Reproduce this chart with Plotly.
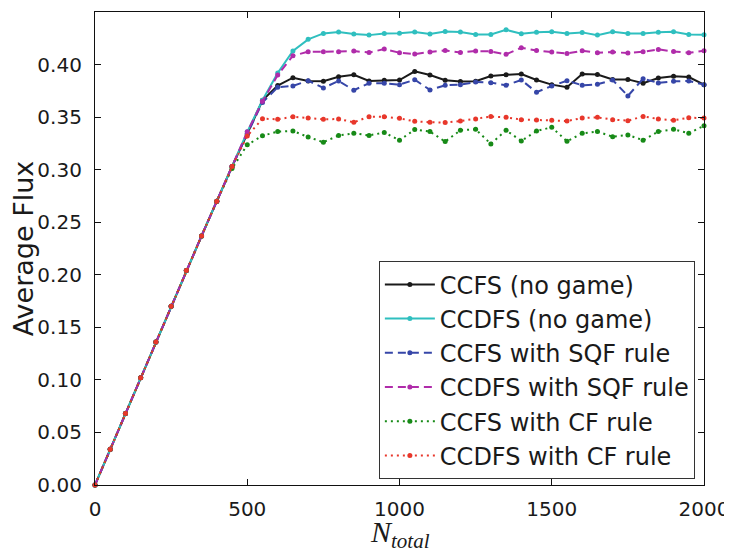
import plotly.graph_objects as go

n_total = list(range(0, 2001, 50))

rise = [0.0, 0.034, 0.068, 0.102, 0.136, 0.170, 0.204, 0.237, 0.270]

ccfs_nogame = rise + [0.303, 0.334, 0.366, 0.380, 0.3875, 0.3844, 0.3841, 0.3884, 0.3903, 0.3844, 0.385,
                      0.3853, 0.3935, 0.390, 0.385, 0.3838, 0.3841, 0.3891, 0.3903, 0.391, 0.3853,
                      0.3809, 0.3784, 0.391, 0.3906, 0.3859, 0.3859, 0.3822, 0.3872, 0.3888, 0.3881, 0.3809]
ccdfs_nogame = rise + [0.303, 0.336, 0.366, 0.392, 0.413, 0.424, 0.4296, 0.431, 0.429, 0.428, 0.4296,
                       0.4298, 0.431, 0.429, 0.4315, 0.431, 0.4287, 0.4287, 0.433, 0.4294, 0.4308,
                       0.4312, 0.4296, 0.4306, 0.428, 0.4312, 0.4296, 0.4296, 0.4308, 0.4312, 0.4287, 0.4284]
ccfs_sqf = rise + [0.303, 0.334, 0.364, 0.3784, 0.3796, 0.3847, 0.3777, 0.3844, 0.3756, 0.3822, 0.3822,
                   0.3809, 0.3856, 0.3759, 0.3803, 0.3809, 0.3834, 0.3828, 0.3803, 0.3853, 0.3737,
                   0.3796, 0.3847, 0.3803, 0.3812, 0.3853, 0.3702, 0.3866, 0.3825, 0.3841, 0.3844, 0.3809]
ccdfs_sqf = rise + [0.303, 0.336, 0.365, 0.390, 0.4084, 0.4122, 0.4122, 0.4122, 0.4128, 0.4115, 0.4147,
                    0.4112, 0.410, 0.4119, 0.4134, 0.4115, 0.4128, 0.4125, 0.4097, 0.416, 0.4134,
                    0.4119, 0.4106, 0.4131, 0.4112, 0.4119, 0.4109, 0.4122, 0.4144, 0.4125, 0.4112, 0.4131]
ccfs_cf = rise + [0.301, 0.3236, 0.3323, 0.3362, 0.3368, 0.3311, 0.3261, 0.3326, 0.3346, 0.3326, 0.3353,
                  0.328, 0.3381, 0.3362, 0.3267, 0.3375, 0.3384, 0.3245, 0.3375, 0.3273, 0.3368,
                  0.3403, 0.327, 0.3346, 0.3362, 0.3314, 0.333, 0.328, 0.3362, 0.3384, 0.3346, 0.3418]
ccdfs_cf = rise + [0.303, 0.332, 0.3485, 0.3479, 0.3504, 0.3491, 0.3479, 0.3482, 0.3451, 0.3504, 0.3504,
                   0.3488, 0.346, 0.3451, 0.3448, 0.3463, 0.3482, 0.3505, 0.3498, 0.3476, 0.3473,
                   0.347, 0.3463, 0.3491, 0.3498, 0.3476, 0.3466, 0.3507, 0.3482, 0.347, 0.3494, 0.3491]

series = [
    ("CCFS (no game)", ccfs_nogame, "#1a1a1a", "solid"),
    ("CCDFS (no game)", ccdfs_nogame, "#2fbfbf", "solid"),
    ("CCFS with SQF rule", ccfs_sqf, "#3646a8", "8px,5px"),
    ("CCDFS with SQF rule", ccdfs_sqf, "#b02caa", "8px,5px"),
    ("CCFS with CF rule", ccfs_cf, "#178a17", "2px,4px"),
    ("CCDFS with CF rule", ccdfs_cf, "#e8372b", "2px,4px"),
]

y_ticks = [round(0.05 * i, 2) for i in range(10)]
x_ticks = [0, 500, 1000, 1500, 2000]

fig = go.Figure()
for name, vals, color, dash in series:
    fig.add_trace(go.Scatter(
        x=n_total, y=vals, name=name, mode="lines+markers",
        line=dict(color=color, width=2, dash=dash),
        marker=dict(color=color, size=5),
        cliponaxis=False,
    ))

axis_common = dict(
    showline=True, linecolor="#111111", linewidth=1.2, mirror="allticks",
    ticks="inside", ticklen=6, tickcolor="#111111", tickwidth=1,
    showgrid=False, zeroline=False, automargin=False,
    tickfont=dict(family="DejaVu Sans", size=20, color="#1a1a1a"),
)

# page body has an 8px margin, so the figure is sized/offset to compensate
fig.update_layout(
    width=724, height=549,
    margin=dict(l=87, r=28, t=4, b=72),
    paper_bgcolor="white", plot_bgcolor="white",
    xaxis=dict(range=[0, 2000], tickvals=x_ticks, ticktext=[str(v) for v in x_ticks],
               ticklabelstandoff=6, **axis_common),
    yaxis=dict(range=[0, 0.45], tickvals=y_ticks, ticktext=[f"{v:.2f}" for v in y_ticks],
               ticklabelstandoff=8,
               title=dict(text="Average Flux",
                          font=dict(family="DejaVu Sans", size=27, color="#1a1a1a"),
                          standoff=11),
               **axis_common),
    legend=dict(
        x=0.985, y=0.012, xanchor="right", yanchor="bottom",
        bgcolor="white", bordercolor="#333333", borderwidth=1,
        font=dict(family="DejaVu Sans", size=24, color="#1a1a1a"),
        itemwidth=50,
    ),
    annotations=[dict(
        text="<i>N</i><sub><i>total</i></sub>", xref="paper", yref="paper",
        x=0.5, y=-0.06, xanchor="center", yanchor="top", showarrow=False,
        font=dict(family="Liberation Serif", size=30, color="#1a1a1a"),
    )],
    showlegend=True,
)

fig.write_html("out.html")
